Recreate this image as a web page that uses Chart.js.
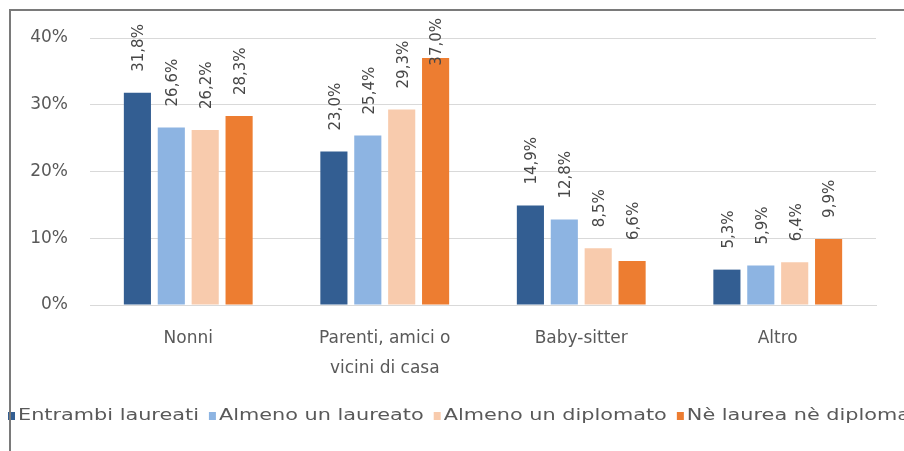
<!DOCTYPE html>
<html>
<head>
<meta charset="utf-8">
<script src="https://cdn.jsdelivr.net/npm/chart.js@4/dist/chart.umd.min.js"></script>
<style>
html,body{margin:0;padding:0;background:#fff;overflow:hidden;}
#wrap{width:904px;height:451px;position:relative;}
#frame{position:absolute;left:9px;top:9px;width:900px;height:450px;border-left:2px solid #7a7a7a;border-top:2px solid #7a7a7a;pointer-events:none;}
</style>
</head>
<body>
<div id="wrap"><canvas id="c" width="904" height="451"></canvas><div id="frame"></div></div>
<script>
const categories = ["Nonni", ["Parenti, amici o", "vicini di casa"], "Baby-sitter", "Altro"];
const seriesNames = ["Entrambi laureati", "Almeno un laureato", "Almeno un diplomato", "Nè laurea nè diploma"];
const entrambiLaureati = [31.8, 23.0, 14.9, 5.3];
const almenoUnLaureato = [26.6, 25.4, 12.8, 5.9];
const almenoUnDiplomato = [26.2, 29.3, 8.5, 6.4];
const neLaureaNeDiploma = [28.3, 37.0, 6.6, 9.9];
const yTicks = [0, 10, 20, 30, 40];
const colors = ["#335E92", "#8DB4E2", "#F8CBAD", "#ED7D31"];

const FONT = "'DejaVu Sans', sans-serif";

const labelPlugin = {
  id: 'barLabels',
  afterDatasetsDraw(chart) {
    const ctx = chart.ctx;
    ctx.save();
    ctx.font = "15px " + FONT;
    ctx.fillStyle = '#474747';
    ctx.textAlign = 'left';
    ctx.textBaseline = 'middle';
    chart.data.datasets.forEach((ds, di) => {
      const meta = chart.getDatasetMeta(di);
      meta.data.forEach((bar, i) => {
        const txt = ds.data[i].toFixed(1).replace('.', ',') + '%';
        const w = ctx.measureText(txt).width;
        let start = bar.y - 21;
        if (start - w < 18) start = 18 + w;
        ctx.save();
        ctx.translate(bar.x + 2, start);
        ctx.rotate(-Math.PI / 2);
        ctx.fillText(txt, 0, 0);
        ctx.restore();
      });
    });
    ctx.restore();
  }
};

const legendPlugin = {
  id: 'customLegend',
  afterDraw(chart) {
    const ctx = chart.ctx;
    ctx.save();
    ctx.font = "16px " + FONT;
    ctx.textBaseline = 'middle';
    ctx.textAlign = 'left';
    const sx = 1.3;
    let x = 8;
    const y = 416;
    chart.data.datasets.forEach((ds) => {
      ctx.fillStyle = ds.backgroundColor;
      ctx.fillRect(x, y - 4, 7, 8);
      x += 10;
      ctx.fillStyle = '#595959';
      ctx.save();
      ctx.translate(x, y);
      ctx.scale(sx, 1);
      ctx.fillText(ds.label, 0, 0);
      ctx.restore();
      x += ctx.measureText(ds.label).width * sx + 10;
    });
    ctx.restore();
  }
};

const datasets = [entrambiLaureati, almenoUnLaureato, almenoUnDiplomato, neLaureaNeDiploma].map((d, i) => ({
  label: seriesNames[i],
  data: d,
  backgroundColor: colors[i],
  borderWidth: 0,
  categoryPercentage: 0.69,
  barPercentage: 0.8
}));

new Chart(document.getElementById('c'), {
  type: 'bar',
  data: { labels: categories, datasets },
  options: {
    responsive: false,
    animation: false,
    devicePixelRatio: 1,
    layout: { padding: { left: 0, right: 28, top: 38, bottom: 0 } },
    plugins: {
      legend: { display: false },
      tooltip: { enabled: false }
    },
    scales: {
      x: {
        grid: { display: false, drawTicks: false },
        border: { display: true, color: '#d9d9d9', width: 1 },
        ticks: {
          color: '#595959',
          font: { family: FONT, size: 17, lineHeight: 1.8 },
          padding: 18,
          maxRotation: 0,
          autoSkip: false
        },
        afterFit(s) { s.height = 146; }
      },
      y: {
        min: 0,
        max: 40,
        afterBuildTicks(s) { s.ticks = yTicks.map(v => ({ value: v })); },
        grid: { color: '#d9d9d9', drawTicks: false },
        border: { display: false },
        ticks: {
          color: '#595959',
          font: { family: FONT, size: 17 },
          padding: 22,
          callback: v => v + '%'
        },
        afterFit(s) { s.width = 90; }
      }
    }
  },
  plugins: [labelPlugin, legendPlugin]
});
</script>
</body>
</html>
